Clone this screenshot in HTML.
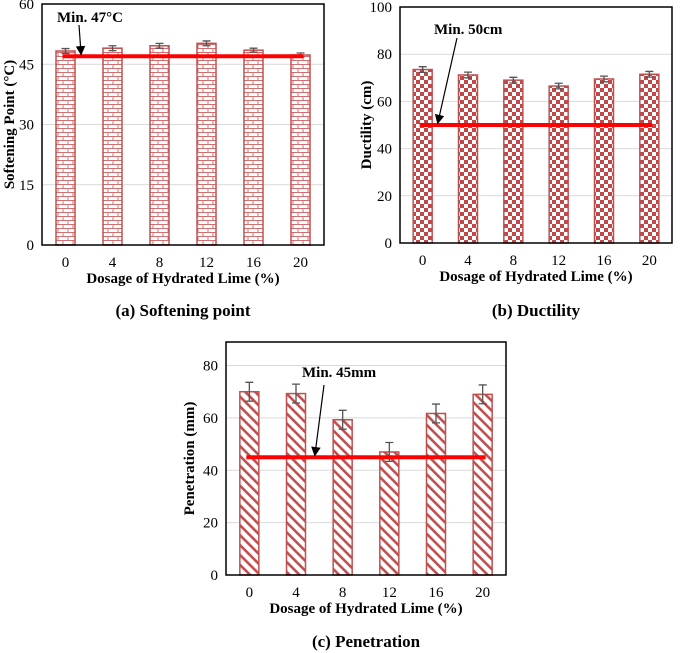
<!DOCTYPE html>
<html><head><meta charset="utf-8"><style>
body{margin:0;background:#fff}
svg{display:block;font-family:"Liberation Serif",serif}
.t{font-size:15px}
.b{font-weight:bold}
</style></head><body>
<svg id="s" width="685" height="653">
<defs>
<pattern id="brick" width="10" height="8" patternUnits="userSpaceOnUse">
<rect width="10" height="8" fill="#fff"/>
<path d="M0 0.5H10M0 4.5H10M3 0.5V4.5M8 4.5V8.5" stroke="#d07070" stroke-width="1" fill="none"/>
</pattern>
<pattern id="check" width="8" height="8" patternUnits="userSpaceOnUse">
<rect width="8" height="8" fill="#fff"/>
<rect width="4" height="4" fill="#c04848"/><rect x="4" y="4" width="4" height="4" fill="#c04848"/>
</pattern>
<pattern id="hatch" width="7" height="7" patternUnits="userSpaceOnUse" patternTransform="rotate(-45)">
<rect width="7" height="7" fill="#fff"/>
<rect width="2.6" height="7" fill="#c05050"/>
</pattern>
<marker id="ah" markerWidth="8" markerHeight="8" refX="6" refY="4" orient="auto"><path d="M0 0L8 4L0 8Z" fill="#000"/></marker>
</defs>
</svg>
<script>
const cats=["0","4","8","12","16","20"];
const soften=[48.3,49,49.6,50.2,48.5,47.3];
const softenErr=[0.6,0.6,0.6,0.6,0.5,0.5];
const duct=[73.5,71.2,69,66.5,69.5,71.5];
const ductErr=[1.2,1.2,1.2,1.2,1.2,1.2];
const pen=[70,69.3,59.3,47,61.7,69];
const penErr=[3.6,3.6,3.6,3.6,3.6,3.6];
const softTicks=[0,15,30,45,60];
const ductTicks=[0,20,40,60,80,100];
const penTicks=[0,20,40,60,80];
const S=document.getElementById('s');
const NS='http://www.w3.org/2000/svg';
function mk(t,a,txt){const e=document.createElementNS(NS,t);for(const k in a)e.setAttribute(k,a[k]);if(txt!=null)e.textContent=txt;S.appendChild(e);return e;}
function chart(o){
 const yS=v=>o.bottom-(v-o.ymin)/(o.ymax-o.ymin)*(o.bottom-o.top);
 const step=(o.right-o.left)/cats.length;
 const xS=i=>o.left+step*(i+0.5);
 o.ticks.forEach(t=>{
  if(t>0&&t<o.ymax){const g=mk('line',{x1:o.left,x2:o.right,y1:yS(t),y2:yS(t),stroke:'#d9d9d9','stroke-width':1});}
  const l=mk('text',{x:o.left-8,y:yS(t)+5,'text-anchor':'end',class:'t'},t);
  
 });
 o.vals.forEach((v,i)=>{
  const w=19;
  const r=mk('rect',{x:xS(i)-w/2,y:yS(v),width:w,height:yS(o.ymin)-yS(v),fill:'url(#'+o.pat+')',stroke:'#c05050','stroke-width':1.5});
  
  const e=o.err[i];
  const p=mk('path',{d:`M${xS(i)} ${yS(v+e)}V${yS(v-e)}M${xS(i)-4} ${yS(v+e)}H${xS(i)+4}M${xS(i)-4} ${yS(v-e)}H${xS(i)+4}`,stroke:'#555','stroke-width':1.3,fill:'none'});
  
  const x=mk('text',{x:xS(i),y:o.bottom+22,'text-anchor':'middle',class:'t'},cats[i]);
  
 });
 const ln=mk('line',{x1:xS(0)-3,x2:xS(5)+3,y1:yS(o.min),y2:yS(o.min),stroke:'#f00','stroke-width':4});
 
 const bx=mk('rect',{x:o.left,y:o.top,width:o.right-o.left,height:o.bottom-o.top,fill:'none',stroke:'#000','stroke-width':1.5});
 
 const mt=mk('text',{x:o.mx,y:o.my,class:'t b'},o.mtext);
 
 const ar=mk('line',{x1:o.a[0],y1:o.a[1],x2:o.a[2],y2:yS(o.min)-3,stroke:'#000','stroke-width':1.2,'marker-end':'url(#ah)'});
 
 const cx=(o.left+o.right)/2;
 const xt=mk('text',{x:cx,y:o.bottom+38,'text-anchor':'middle',class:'t b'},'Dosage of Hydrated Lime (%)');
 
 const yc=(o.top+o.bottom)/2;
 const yt=mk('text',{x:o.ytx,y:yc,'text-anchor':'middle',class:'t b',transform:`rotate(-90 ${o.ytx} ${yc})`},o.ytitle);
 
 const cp=mk('text',{x:cx,y:o.capY,'text-anchor':'middle','font-size':'17px',class:'b'},o.cap);
 
}
chart({id:'softening',left:42,right:324,top:4,bottom:245,ymin:0,ymax:60,ticks:softTicks,vals:soften,err:softenErr,pat:'brick',min:47,mtext:'Min. 47°C',mx:57,my:22,a:[79,25,81],ytitle:'Softening Point (°C)',ytx:14,cap:'(a) Softening point',capY:316});
chart({id:'ductility',left:400,right:672,top:7,bottom:243,ymin:0,ymax:100,ticks:ductTicks,vals:duct,err:ductErr,pat:'check',min:50,mtext:'Min. 50cm',mx:434,my:34,a:[457,38,438],ytitle:'Ductility (cm)',ytx:371,cap:'(b) Ductility',capY:316});
chart({id:'penetration',left:226,right:506,top:342,bottom:575,ymin:0,ymax:89,ticks:penTicks,vals:pen,err:penErr,pat:'hatch',min:45,mtext:'Min. 45mm',mx:302,my:377,a:[324,385,315],ytitle:'Penetration (mm)',ytx:194,cap:'(c) Penetration',capY:647});
</script>
</body></html>
